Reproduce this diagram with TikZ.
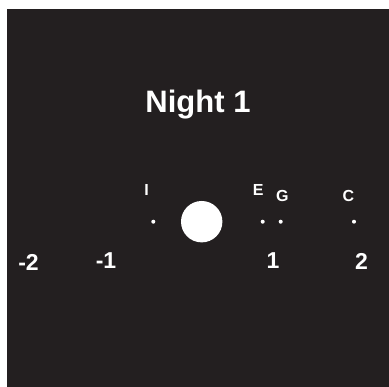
\documentclass[tikz,border=0pt]{standalone}
\usepackage{fontspec}
\setmainfont{Liberation Sans}
\usepackage{xcolor}
\definecolor{nightbg}{HTML}{231F20}

\begin{document}
\begin{tikzpicture}[x=1pt, y=1pt,
		star/.style={white, font=\fontsize{16}{16}\selectfont\bfseries},
		tick/.style={white, font=\fontsize{23}{23}\selectfont\bfseries}]
			
			\useasboundingbox (0,0) rectangle (389,387);
			\fill[nightbg] (7,0) rectangle (389,378);
			
			\node[white, font=\fontsize{31}{31}\selectfont\bfseries] (title) at (198,282) {Night 1};
			
			\fill[white] (201.7,165.3) circle (20.7);
			
			\foreach \x/\n in {153.3/I, 262.7/E, 280.7/G, 354/C}{
				\fill[white] (\x,165.3) circle (2);
			}
			
			\node[star] (labI) at (146.7,197) {I};
			\node[star] (labE) at (258.3,196.5) {E};
			\node[star] (labG) at (282.3,191.2) {G};
			\node[star] (labC) at (348.3,190.5) {C};
			
			\node[tick] (mtwo) at (28.5,125) {-2};
			\node[tick] (mone) at (106,126) {-1};
			\node[tick] (pone) at (273,126.3) {1};
			\node[tick] (ptwo) at (361.5,125.5) {2};
			
		\end{tikzpicture}
\end{document}
